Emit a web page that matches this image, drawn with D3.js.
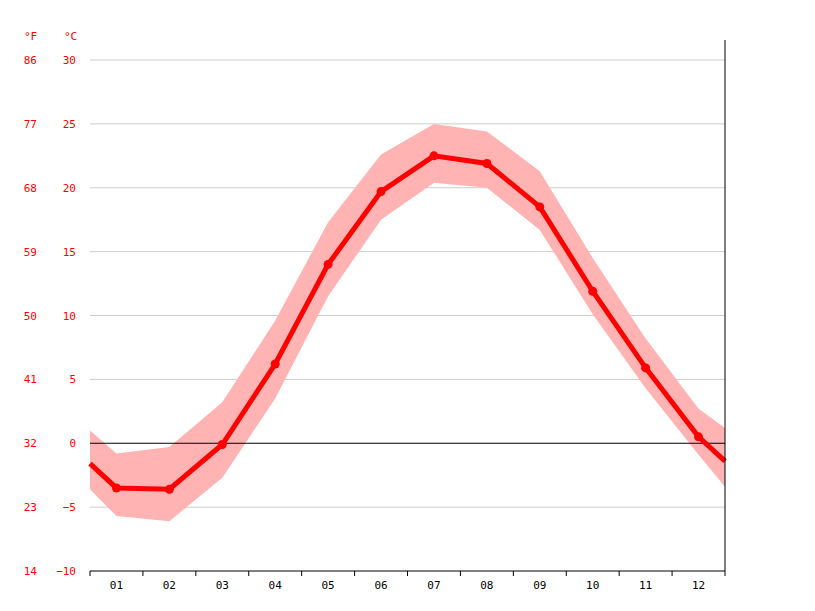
<!DOCTYPE html><html><head><meta charset="utf-8"><script src="https://cdn.jsdelivr.net/npm/d3@7"></script>
<style>body{margin:0;background:#fff}text{font-family:"DejaVu Sans Mono",monospace;font-size:11px}</style></head><body><svg width="815" height="611"></svg><script>
const months=["01","02","03","04","05","06","07","08","09","10","11","12"];
const mean=[-3.5,-3.6,-0.1,6.2,14.0,19.7,22.5,21.9,18.5,11.9,5.9,0.5];
const high=[-0.8,-0.3,3.2,9.6,17.3,22.6,25.0,24.4,21.3,14.5,8.2,2.7];
const low=[-5.7,-6.1,-2.7,3.5,11.5,17.5,20.4,20.0,16.7,10.1,4.3,-0.9];
const edgeMean=[-1.6,-1.4], edgeHigh=[1.0,1.2], edgeLow=[-3.6,-3.4];
const cTicks=[-10,-5,0,5,10,15,20,25,30];
const fTicks=[14,23,32,41,50,59,68,77,86];
const svg=d3.select("svg");
const L=90,R=725,T=60,B=571;
const y=d3.scaleLinear().domain([-10,30]).range([B,T]);
const x=d3.scaleBand().domain(months).range([L,R]);
const xc=m=>x(m)+x.bandwidth()/2;
svg.selectAll(".g").data(cTicks.filter(d=>d!==-10&&d!==0)).enter().append("line")
 .attr("x1",L).attr("x2",R).attr("y1",d=>y(d)).attr("y2",d=>y(d)).attr("stroke","#ccc");
const pts=(arr,e)=>[[L,e[0]],...months.map((m,i)=>[xc(m),arr[i]]),[R,e[1]]];
const hp=pts(high,edgeHigh), lp=pts(low,edgeLow);
svg.append("path").attr("d",d3.area().x(d=>d[0]).y0((d,i)=>y(lp[i][1])).y1(d=>y(d[1]))(hp)).attr("fill","#ffb3b3");
svg.append("line").attr("x1",L).attr("x2",R).attr("y1",y(0)).attr("y2",y(0)).attr("stroke","#000");
svg.append("path").attr("d",d3.line().x(d=>d[0]).y(d=>y(d[1]))(pts(mean,edgeMean))).attr("fill","none").attr("stroke","#f00").attr("stroke-width",5);
svg.selectAll(".p").data(mean).enter().append("circle").attr("cx",(d,i)=>xc(months[i])).attr("cy",d=>y(d)).attr("r",4.5).attr("fill","#f00");
svg.append("line").attr("x1",L).attr("x2",R).attr("y1",B).attr("y2",B).attr("stroke","#000");
svg.append("line").attr("x1",R).attr("x2",R).attr("y1",40).attr("y2",B).attr("stroke","#000");
const xa=svg.append("g").attr("transform",`translate(0,${B})`);
d3.range(13).forEach(i=>{const xx=L+i*x.bandwidth();xa.append("line").attr("x1",xx).attr("x2",xx).attr("y1",0).attr("y2",5).attr("stroke","#000");});
months.forEach(m=>xa.append("text").attr("x",xc(m)).attr("y",18).attr("text-anchor","middle").text(m));
cTicks.forEach((c,i)=>{
 svg.append("text").attr("x",76).attr("y",y(c)+4).attr("text-anchor","end").attr("fill","#f00").text(c===-10?"−10":c<0?"−"+(-c):c);
 svg.append("text").attr("x",37).attr("y",y(c)+4).attr("text-anchor","end").attr("fill","#f00").text(fTicks[i]);
});
svg.append("text").attr("x",24).attr("y",40).attr("fill","#f00").text("°F");
svg.append("text").attr("x",64).attr("y",40).attr("fill","#f00").text("°C");
</script></body></html>
